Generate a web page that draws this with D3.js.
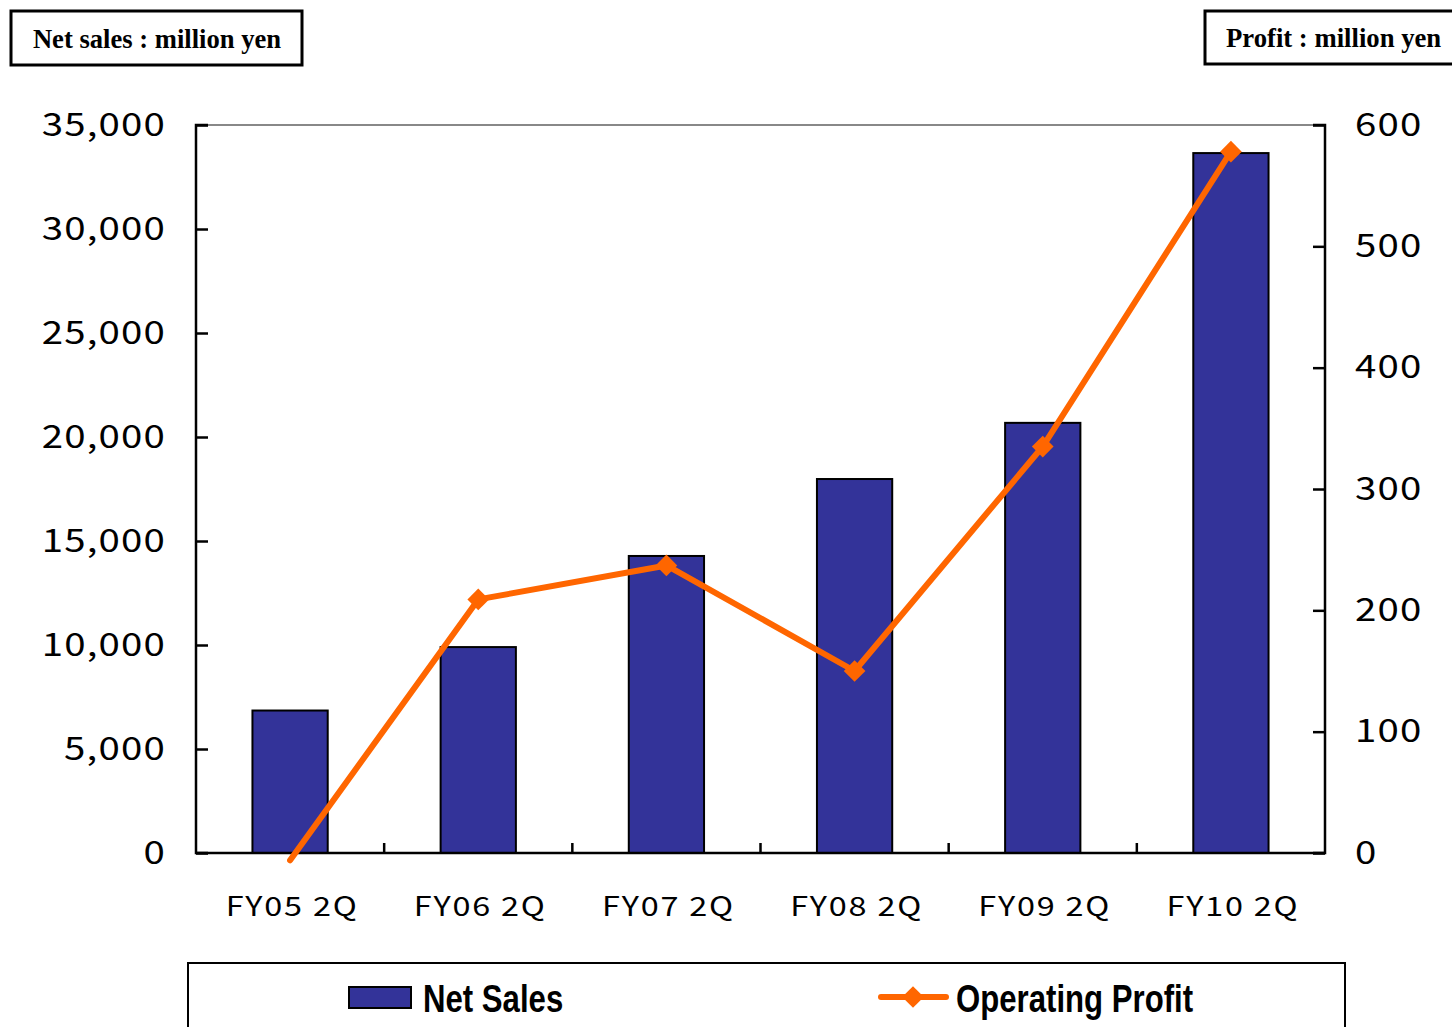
<!DOCTYPE html>
<html>
<head>
<meta charset="utf-8">
<script src="https://cdn.jsdelivr.net/npm/d3@7"></script>
<style>
  body { margin: 0; background: #fff; }
  .tick text { font-family: "Noto Sans CJK JP", "DejaVu Sans", sans-serif; fill: #000; }
</style>
</head>
<body>
<div class="chart"></div>
<script>
const categories = ['FY05 2Q', 'FY06 2Q', 'FY07 2Q', 'FY08 2Q', 'FY09 2Q', 'FY10 2Q']
const netSales = [6850, 9900, 14280, 17980, 20680, 33650]
const operatingProfit = [-6, 209, 237, 150, 335, 578]
const salesTicks = [0, 5000, 10000, 15000, 20000, 25000, 30000, 35000]
const profitTicks = [0, 100, 200, 300, 400, 500, 600]

const width = 1452, height = 1027
const plot = {left: 196, right: 1325, top: 125, bottom: 853}
const wide = 1.2  // tick fonts in the picture are wide

const svg = d3.select('.chart').append('svg')
  .attr('width', width)
  .attr('height', height)

const x = d3.scaleBand()
  .domain(categories)
  .range([plot.left, plot.right])
  .paddingInner(0.6)
  .paddingOuter(0.3)

const ySales = d3.scaleLinear().domain([0, 35000]).range([plot.bottom, plot.top])
const yProfit = d3.scaleLinear().domain([0, 600]).range([plot.bottom, plot.top])

// top border of plot area
svg.append('line')
  .attr('x1', plot.left).attr('x2', plot.right)
  .attr('y1', plot.top).attr('y2', plot.top)
  .attr('stroke', '#888').attr('stroke-width', 2)

// bars
svg.selectAll('.bar')
  .data(netSales)
  .enter()
  .append('rect')
  .attr('class', 'bar')
  .attr('x', (d, i) => x(categories[i]))
  .attr('width', x.bandwidth())
  .attr('y', d => ySales(d))
  .attr('height', d => ySales(0) - ySales(d))
  .attr('fill', '#333399')
  .attr('stroke', '#000')
  .attr('stroke-width', 2)

// left axis
const yAxisL = d3.axisRight(ySales)
  .tickValues(salesTicks)
  .tickSize(12)
  .tickFormat(d3.format(',d'))
const gL = svg.append('g')
  .attr('transform', `translate(${plot.left},0)`)
  .call(yAxisL)
gL.select('.domain').attr('stroke', '#000').attr('stroke-width', 2.5).attr('d', `M12,${plot.top}H0V${plot.bottom}H12`)
gL.selectAll('.tick line').attr('stroke-width', 2.5)
gL.selectAll('.tick text')
  .attr('x', -30 / wide)
  .attr('transform', `scale(${wide},1)`)
  .attr('text-anchor', 'end')
  .attr('font-size', 32)
  .attr('letter-spacing', 1)

// right axis
const yAxisR = d3.axisLeft(yProfit)
  .tickValues(profitTicks)
  .tickSize(12)
const gR = svg.append('g')
  .attr('transform', `translate(${plot.right},0)`)
  .call(yAxisR)
gR.select('.domain').attr('stroke', '#000').attr('stroke-width', 2.5).attr('d', `M-12,${plot.top}H0V${plot.bottom}H-12`)
gR.selectAll('.tick line').attr('stroke-width', 2.5)
gR.selectAll('.tick text')
  .attr('x', 30 / wide)
  .attr('transform', `scale(${wide},1)`)
  .attr('text-anchor', 'start')
  .attr('font-size', 32)
  .attr('letter-spacing', 1)

// x axis
svg.append('line')
  .attr('x1', plot.left).attr('x2', plot.right)
  .attr('y1', plot.bottom).attr('y2', plot.bottom)
  .attr('stroke', '#000').attr('stroke-width', 2.5)
const step = x.step()
svg.selectAll('.xtick')
  .data(categories.slice(1))
  .enter()
  .append('line')
  .attr('x1', (d, i) => plot.left + step * (i + 1))
  .attr('x2', (d, i) => plot.left + step * (i + 1))
  .attr('y1', plot.bottom)
  .attr('y2', plot.bottom - 10)
  .attr('stroke', '#000').attr('stroke-width', 2.5)
svg.selectAll('.xlabel')
  .data(categories)
  .enter()
  .append('text')
  .attr('transform', d => `translate(${x(d) + x.bandwidth() / 2 + 2},916) scale(${wide},1)`)
  .attr('text-anchor', 'middle')
  .attr('font-family', '"Noto Sans CJK JP", "DejaVu Sans", sans-serif')
  .attr('font-size', 27)
  .attr('letter-spacing', 1.5)
  .text(d => d)

// operating profit line
const line = d3.line()
  .x((d, i) => x(categories[i]) + x.bandwidth() / 2)
  .y(d => yProfit(d))
svg.append('path')
  .datum(operatingProfit)
  .attr('d', line)
  .attr('fill', 'none')
  .attr('stroke', '#FF6600')
  .attr('stroke-width', 6)
  .attr('stroke-linecap', 'round')
  .attr('stroke-linejoin', 'round')

svg.selectAll('.marker')
  .data(operatingProfit.filter(d => d >= 0))
  .enter()
  .append('path')
  .attr('d', d3.symbol(d3.symbolDiamond2, 300))
  .attr('transform', d => {
    const i = operatingProfit.indexOf(d)
    return `translate(${x(categories[i]) + x.bandwidth() / 2},${yProfit(d)})`
  })
  .attr('fill', '#FF6600')

// unit boxes
svg.append('rect')
  .attr('x', 11).attr('y', 11).attr('width', 291).attr('height', 54)
  .attr('fill', 'none').attr('stroke', '#000').attr('stroke-width', 3)
svg.append('text')
  .attr('x', 157).attr('y', 48)
  .attr('text-anchor', 'middle')
  .attr('font-family', '"Liberation Serif", "Times New Roman", serif')
  .attr('font-weight', 'bold')
  .attr('font-size', 26.6)
  .text('Net sales : million yen')

svg.append('rect')
  .attr('x', 1205).attr('y', 11).attr('width', 260).attr('height', 53)
  .attr('fill', 'none').attr('stroke', '#000').attr('stroke-width', 3)
svg.append('text')
  .attr('x', 1226).attr('y', 47)
  .attr('font-family', '"Liberation Serif", "Times New Roman", serif')
  .attr('font-weight', 'bold')
  .attr('font-size', 26.7)
  .text('Profit : million yen')

// legend
svg.append('rect')
  .attr('x', 188).attr('y', 963).attr('width', 1157).attr('height', 80)
  .attr('fill', 'none').attr('stroke', '#000').attr('stroke-width', 2)
svg.append('rect')
  .attr('x', 349).attr('y', 987).attr('width', 62).attr('height', 21)
  .attr('fill', '#333399').attr('stroke', '#000').attr('stroke-width', 2)
svg.append('text')
  .attr('transform', 'translate(423,1012) scale(0.82,1)')
  .attr('font-family', '"Liberation Sans", Arial, sans-serif')
  .attr('font-weight', 'bold')
  .attr('font-size', 38)
  .text('Net Sales')
svg.append('line')
  .attr('x1', 881).attr('x2', 946).attr('y1', 997).attr('y2', 997)
  .attr('stroke', '#FF6600').attr('stroke-width', 6).attr('stroke-linecap', 'round')
svg.append('path')
  .attr('d', d3.symbol(d3.symbolDiamond2, 300))
  .attr('transform', 'translate(913,997)')
  .attr('fill', '#FF6600')
svg.append('text')
  .attr('transform', 'translate(956,1012) scale(0.82,1)')
  .attr('font-family', '"Liberation Sans", Arial, sans-serif')
  .attr('font-weight', 'bold')
  .attr('font-size', 38)
  .text('Operating Profit')
</script>
</body>
</html>
